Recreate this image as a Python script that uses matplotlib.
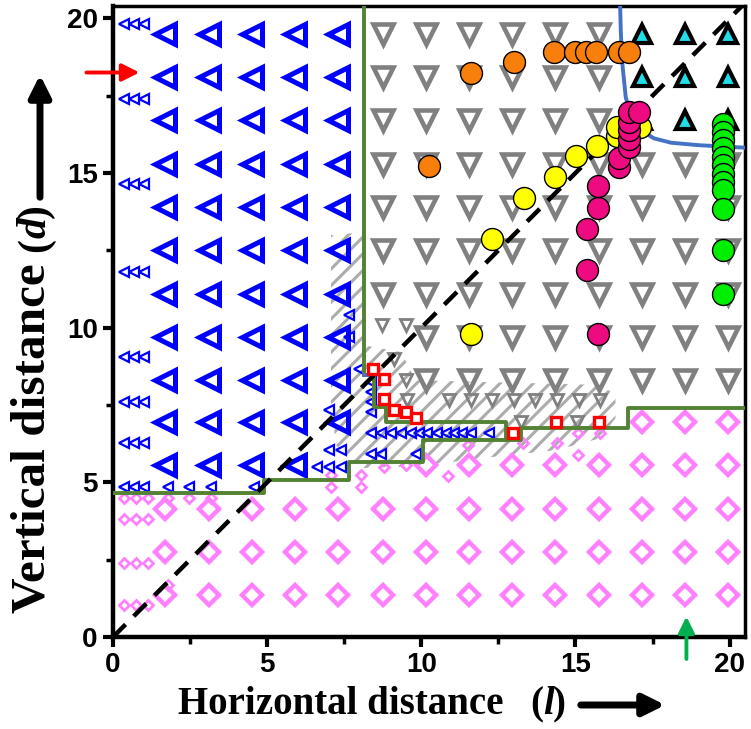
import matplotlib
matplotlib.use("Agg")
import matplotlib.pyplot as plt
from matplotlib.patches import Polygon
from matplotlib.ticker import MultipleLocator

plt.rcParams['font.family'] = ['Liberation Sans', 'DejaVu Sans']
plt.rcParams['hatch.linewidth'] = 2.2

# ---- data ----
grid_x = [1.7, 3.1, 4.5, 5.9, 7.3, 8.75, 10.15, 11.55, 12.95, 14.35, 15.75, 17.15, 18.55, 19.95]
grid_y = [1.35, 2.75, 4.15, 5.55, 6.95, 8.3, 9.7, 11.1, 12.5, 13.9, 15.3, 16.7, 18.1, 19.5]

blue_x = grid_x[0:5]
blue_y = grid_y[3:14]
grey_x = grid_x[5:14]
grey_y = grid_y[5:14]
cyan_x = grid_x[11:14]
cyan_y = grid_y[11:14]
pink_rows = {1.35: grid_x, 2.75: grid_x, 4.15: grid_x,
             5.55: grid_x[6:14], 6.95: grid_x[11:14]}

# triple small triangles at the left edge
left_x = [0.37, 0.69, 1.01]
left_y = [19.82, 17.4, 14.66, 11.8, 9.06, 7.6, 6.27, 4.86]
# other small blue triangles
sblue_x = [1.78, 2.46, 3.18, 4.57, 7.66, 7.66, 7.98, 7.02, 7.02, 7.39, 6.63, 7.02, 7.39,
           8.36, 8.36, 8.36, 8.36,
           8.36, 8.69, 9.01, 9.34, 9.66, 9.93, 10.2, 10.52, 10.79, 11.06, 11.33, 11.6, 12.2,
           8.36, 8.69, 9.82]
sblue_y = [4.86, 4.86, 4.86, 4.86, 10.4, 9.7, 8.68, 7.33, 6.04, 6.04, 5.5, 5.5, 5.5,
           8.24, 7.92, 7.6, 7.27,
           6.58, 6.58, 6.58, 6.58, 6.58, 6.58, 6.58, 6.58, 6.58, 6.58, 6.58, 6.58, 6.58,
           5.91, 5.91, 5.91]
# small grey triangles
sgrey_x = [8.74, 9.5, 9.1, 9.5, 9.55, 10.9, 11.6, 12.3, 13.0, 13.7, 14.4, 15.1, 15.8, 13.22, 15.06]
sgrey_y = [10.08, 10.08, 9.0, 8.3, 7.66, 7.66, 7.66, 7.66, 7.66, 7.66, 7.66, 7.66, 7.66, 6.96, 6.96]
# small pink diamonds
spink_x = [0.37, 0.74, 1.12, 0.37, 0.74, 1.12, 0.37, 0.74, 1.12, 0.37, 0.74, 1.12,
           1.78, 2.46, 3.18, 1.78, 7.07, 7.07, 8.04, 8.04, 8.8, 9.5, 10.86, 11.5,
           13.3, 14.4, 15.07, 15.07, 15.8]
spink_y = [4.5, 4.5, 4.5, 3.8, 3.8, 3.8, 2.4, 2.4, 2.4, 1.03, 1.03, 1.03,
           4.5, 4.5, 4.5, 1.68, 5.23, 4.85, 5.23, 4.85, 5.5, 5.55, 5.2, 6.22,
           6.27, 6.27, 6.6, 5.88, 6.6]

red_x = [8.42, 8.8, 8.8, 9.12, 9.5, 9.82, 12.96, 14.36, 15.75]
red_y = [8.67, 8.33, 7.69, 7.33, 7.28, 7.07, 6.6, 6.95, 6.95]

orange_x = [10.24, 11.6, 13.0, 14.3, 15.0, 15.33, 15.66, 16.4, 16.73]
orange_y = [15.22, 18.25, 18.58, 18.9, 18.9, 18.9, 18.9, 18.9, 18.9]
yellow_x = [11.6, 12.28, 13.32, 14.33, 15.02, 15.71, 16.36, 16.36, 17.1]
yellow_y = [9.8, 12.86, 14.2, 14.88, 15.54, 15.86, 16.2, 16.5, 16.5]
magenta_x = [15.72, 15.36, 15.36, 15.72, 15.72, 16.4, 16.4, 16.73, 16.73, 16.73, 16.73, 16.73, 17.05]
magenta_y = [9.8, 11.86, 13.2, 13.86, 14.57, 15.2, 15.5, 15.83, 16.1, 16.38, 16.64, 16.96, 16.96]
green_x = [19.8] * 12
green_y = [16.6, 16.33, 16.06, 15.8, 15.53, 15.25, 14.98, 14.7, 14.44, 13.85, 12.5, 11.1]

# boundary lines
lowA_x = [0, 4.9, 4.9, 7.65, 7.65, 10.04, 10.04, 13.22, 13.22, 16.7, 16.7, 20.5]
lowA_y = [4.65, 4.65, 5.07, 5.07, 5.65, 5.65, 6.37, 6.37, 6.75, 6.75, 7.4, 7.4]
upB1_x = [8.15, 8.15]
upB1_y = [20.4, 8.46]
upB2_x = [8.47, 8.47, 8.85, 8.85, 12.74, 12.74]
upB2_y = [8.46, 7.44, 7.44, 6.96, 6.96, 6.37]
curve_x = [16.45, 16.47, 16.52, 16.63, 16.8, 17.12, 17.55, 18.1, 19.0, 20.5]
curve_y = [20.4, 19.6, 18.55, 17.46, 16.81, 16.38, 16.12, 15.98, 15.9, 15.82]
hatch_x = [7.07, 8.14, 8.14, 9.34, 9.82, 15.82, 16.3, 16.3, 15.82, 14.36, 11.93, 9.98, 8.04, 7.23, 7.07]
hatch_y = [12.99, 13.09, 9.43, 9.21, 8.3, 8.15, 7.82, 7.08, 6.43, 6.04, 5.78, 5.53, 5.46, 6.2, 7.66]

fig = plt.figure(figsize=(7.51, 7.29), dpi=100)
ax = fig.add_axes([113 / 751, 1 - 637 / 729, 632 / 751, 631 / 729])

ax.add_patch(Polygon(list(zip(hatch_x, hatch_y)), facecolor='none', edgecolor='#acacac',
                     linewidth=0, hatch='//', zorder=0))

# grey big triangles
gx, gy = [], []
for y in grey_y:
    for x in grey_x:
        if x in cyan_x and y in cyan_y:
            continue
        if x == 8.75 and y < 10:
            continue
        gx.append(x)
        gy.append(y)
ax.plot(gx, gy, 'v', ms=14, mfc='none', mec='#808080', mew=3.3, ls='none', zorder=2)
ax.plot(sgrey_x, sgrey_y, 'v', ms=8.5, mfc='none', mec='#808080', mew=2, ls='none', zorder=2)

# cyan triangles
cx = [x for y in cyan_y for x in cyan_x]
cy = [y for y in cyan_y for x in cyan_x]
ax.plot(cx, cy, '^', ms=13, mfc='#22dde8', mec='k', mew=3, ls='none', zorder=2)

# pink diamonds
px, py = [], []
for y, xs in pink_rows.items():
    px += list(xs)
    py += [y] * len(xs)
ax.plot(px, py, 'D', ms=10, mfc='none', mec='#ff80ff', mew=3.2, ls='none', zorder=2)
ax.plot(spink_x, spink_y, 'D', ms=5.5, mfc='none', mec='#ff80ff', mew=2, ls='none', zorder=2)

# blue triangles
bx, by = [], []
for y in blue_y:
    for x in blue_x:
        if y == 5.55 and x == 7.3:
            continue
        bx.append(x)
        by.append(y)
ax.plot(bx, by, '<', ms=14.5, mfc='none', mec='#0000ff', mew=3.6, ls='none', zorder=3)
lx = [x for y in left_y for x in left_x]
ly = [y for y in left_y for x in left_x]
ax.plot(lx, ly, '<', ms=7, mfc='none', mec='#0000ff', mew=1.6, ls='none', zorder=3)
ax.plot(sblue_x, sblue_y, '<', ms=7, mfc='none', mec='#0000ff', mew=1.6, ls='none', zorder=3)

# boundaries
ax.plot(lowA_x, lowA_y, color='#548235', lw=2.8, zorder=4)
ax.plot(upB1_x, upB1_y, color='#548235', lw=2.8, zorder=4)
ax.plot(upB2_x, upB2_y, color='#548235', lw=2.8, zorder=4)
ax.plot([8.15, 8.47], [8.46, 8.46], color='#4472c4', lw=2.8, zorder=4)
ax.plot(curve_x, curve_y, color='#4472c4', lw=2.8, zorder=4)

# diagonal
ax.plot([0, 20.5], [0, 20.5], color='k', lw=3.2, dashes=(4, 2.6), zorder=5)

ax.plot(red_x, red_y, 's', ms=7, mfc='white', mec='#ff0000', mew=2.4, ls='none', zorder=6)

for xs, ys, c in [(orange_x, orange_y, '#f97f0c'), (yellow_x, yellow_y, '#ffff00'),
                  (magenta_x, magenta_y, '#ee0a80'), (green_x, green_y, '#00ee00')]:
    ax.plot(xs, ys, 'o', ms=15.8, mfc=c, mec='k', mew=1, ls='none', zorder=7)

# pointer arrows
ax.annotate('', xy=(0.95, 18.25), xytext=(-0.95, 18.25), annotation_clip=False,
            arrowprops=dict(arrowstyle='-|>', color='#ff0000', lw=2.8, mutation_scale=26))
ax.annotate('', xy=(18.6, 0.75), xytext=(18.6, -0.8), annotation_clip=False,
            arrowprops=dict(arrowstyle='-|>', color='#00b050', lw=2.8, mutation_scale=24))

ax.set_xlim(0, 20.5)
ax.set_ylim(0, 20.4)
ax.xaxis.set_major_locator(MultipleLocator(5))
ax.xaxis.set_minor_locator(MultipleLocator(2.5))
ax.yaxis.set_major_locator(MultipleLocator(5))
ax.yaxis.set_minor_locator(MultipleLocator(2.5))
ax.tick_params(which='major', direction='out', length=7, width=3, labelsize=20, pad=4)
ax.tick_params(which='minor', direction='out', length=5, width=2.5)
for lab in ax.get_xticklabels() + ax.get_yticklabels():
    lab.set_fontweight('bold')
for s in ax.spines.values():
    s.set_linewidth(2.5)
ax.spines['left'].set_linewidth(3.2)
ax.spines['bottom'].set_linewidth(3.2)

# axis titles with arrows
serif = dict(fontweight='bold', family='Liberation Serif')
fig.text(178 / 751, 1 - 714 / 729, 'Horizontal distance', fontsize=28,
         ha='left', va='baseline', **serif)
fig.text(530 / 751, 1 - 714 / 729, '(', fontsize=28, ha='left', va='baseline', **serif)
fig.text(543 / 751, 1 - 714 / 729, 'l', fontsize=28, style='italic', ha='left',
         va='baseline', **serif)
fig.text(553 / 751, 1 - 714 / 729, ')', fontsize=28, ha='left', va='baseline', **serif)

fig.text(55 / 751, 1 - 613 / 729, 'Vertical distance', fontsize=35.5, rotation=90,
         ha='right', va='bottom', **serif)
fig.text(55 / 751, 1 - 252 / 729, '(', fontsize=30, rotation=90,
         ha='right', va='bottom', **serif)
fig.text(55 / 751, 1 - 238 / 729, 'd', fontsize=30, rotation=90, style='italic',
         ha='right', va='bottom', **serif)
fig.text(55 / 751, 1 - 218 / 729, ')', fontsize=30, rotation=90,
         ha='right', va='bottom', **serif)

ax.annotate('', xy=(668 / 751, 1 - 705 / 729), xytext=(578 / 751, 1 - 705 / 729),
            xycoords='figure fraction', textcoords='figure fraction', annotation_clip=False,
            arrowprops=dict(arrowstyle='-|>', color='k', lw=5, mutation_scale=32))
ax.annotate('', xy=(40 / 751, 1 - 72 / 729), xytext=(40 / 751, 1 - 200 / 729),
            xycoords='figure fraction', textcoords='figure fraction', annotation_clip=False,
            arrowprops=dict(arrowstyle='-|>', color='k', lw=5, mutation_scale=32))

fig.savefig('out.png', dpi=100)
